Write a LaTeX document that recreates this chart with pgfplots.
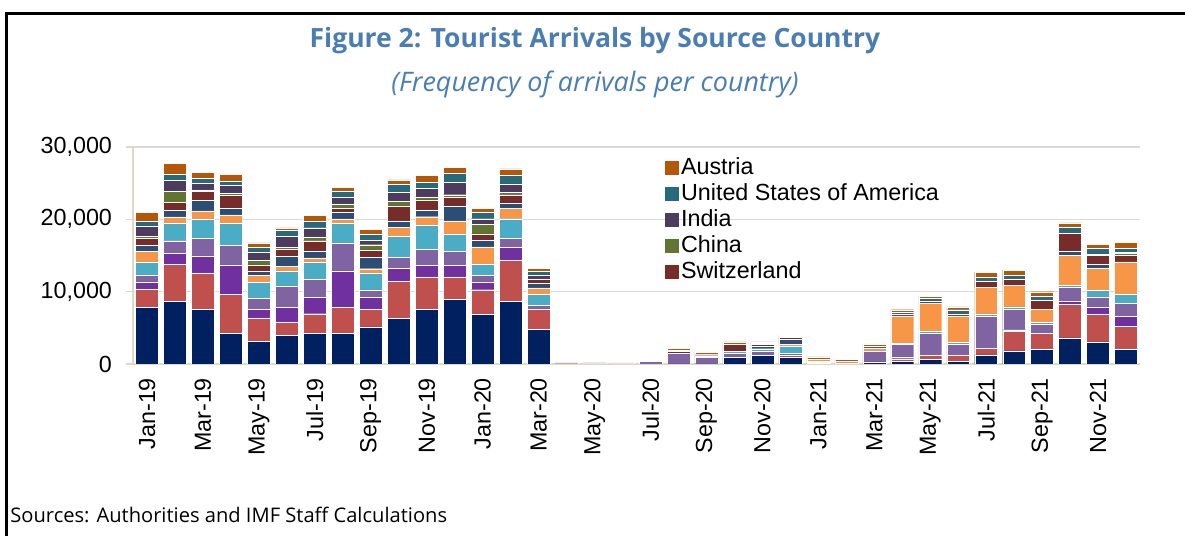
\documentclass[border=0pt]{standalone}
\usepackage{pgfplots}
\usepackage{pgfplotstable}
\usepackage{fontspec}
\pgfplotsset{compat=1.18}
\setmainfont{Liberation Sans}
\newfontfamily\segoe{Open Sans}

\definecolor{titleblue}{HTML}{4A7EB3}
\definecolor{gridgray}{HTML}{D9D9D9}
\definecolor{axisbeige}{HTML}{DDD9C3}
\definecolor{cA}{HTML}{002060}
\definecolor{cB}{HTML}{C0504D}
\definecolor{cC}{HTML}{7030A0}
\definecolor{cD}{HTML}{8064A2}
\definecolor{cE}{HTML}{4BACC6}
\definecolor{cF}{HTML}{F79646}
\definecolor{cG}{HTML}{2C4D75}
\definecolor{cSwi}{HTML}{772C2A}
\definecolor{cChn}{HTML}{5F7530}
\definecolor{cInd}{HTML}{4D3B62}
\definecolor{cUsa}{HTML}{276A7C}
\definecolor{cAut}{HTML}{B65708}

% monthly arrivals by source, Jan-19 .. Dec-21 (x = 0..35)
\pgfplotstableread{
x  sa   sb   sc   sd   se   sf   sg   swi  chn  ind  usa  aut
0  7870 2410 1060 980  1800 1440 880  920  280  1440 640  1210
1  8700 5100 1480 1760 2410 880  920  1110 1530 1480 840  1480
2  7590 5000 2360 2410 2640 1160 1480 1250 190  920  650  880
3  4260 5370 4070 2740 3010 1150 880  1810 320  1070 650  920
4  3100 3290 1160 1480 2310 880  650  830  650  1160 600  650
5  3980 1850 2040 2920 2080 600  1480 880  280  1530 880  280
6  4260 2690 2310 2410 2450 560  880  1480 550  1250 880  840
7  4260 3610 5000 3890 2690 600  880  600  600  880  880  560
8  5140 2380 1730 980  2380 560  1590 1030 700  600  840  660
9  6300 5140 1780 1490 2940 1220 930  2060 600  1260 1120 610
10 7570 4480 1630 2200 3270 1210 940  1400 420  1160 840  940
11 8970 3080 1630 1870 2430 1820 2060 1160 380  1720 1270 840
12 6910 3360 1080 930  1500 2420 940  840  1310 790  890  560
13 8640 5740 1730 1260 2710 1450 650  1220 320  1170 1170 930
14 4760 2760 80   530  1490 890  600  570  100  550  510  380
15 20   0    0    20   50   0    40   0    0    0    0    10
16 30   0    0    60   0    0    40   30   0    0    0    30
17 25   0    0    100  0    40   0    50   0    40   0    120
18 0    0    0    380  0    0    0    80   0    50   30   120
19 30   0    0    1450 0    0    0    250  0    130  0    300
20 40   0    0    900  0    0    0    200  0    130  50   280
21 940  0    0    560  280  0    0    890  0    0    0    380
22 1220 0    0    560  330  0    380  230  0    0    100  230
23 940  280  0    280  940  280  660  280  0    0    150  180
24 100  150  0    150  0    200  0    100  0    0    0    285
25 50   0    0    100  0    200  0    80   0    0    0    230
26 280  0    0    1500 0    380  0    0    0    0    280  280
27 330  400  255  1735 140  3800 0    190  0    0    370  280
28 660  610  0    2950 330  3890 0    230  0    0    380  330
29 375  895  0    1450 280  3660 0    280  0    0    560  380
30 1270 890  0    4450 330  3610 0    890  0    0    610  660
31 1830 2720 190  2810 330  2950 0    900  0    0    600  660
32 2110 2110 0    1310 240  1780 0    1270 0    0    610  560
33 3610 4600 510  1830 280  4180 610  2440 0    0    840  610
34 3050 3890 940  1410 930  2960 660  1170 0    230  710  560
35 2110 3050 1450 1780 1270 4460 0    890  280  190  470  840
}\arrivals

\begin{document}
\begin{tikzpicture}[x=0.5bp,y=0.5bp]
\useasboundingbox (0,0) rectangle (1185,536);
% frame (top and left edges only)
\draw[line width=1.3bp] (6.5,0) -- (6.5,522.2) -- (1185,522.2);

\node[anchor=base, text=titleblue, font=\segoe\bfseries\fontsize{13.3}{16}\selectfont]
  at (595,488.7) {Figure 2: Tourist Arrivals by Source Country};
\node[anchor=base, text=titleblue, font=\segoe\itshape\fontsize{13.5}{16}\selectfont]
  at (595,444.3) {(Frequency of arrivals per country)};
\node[anchor=base west, inner sep=0pt, font=\segoe\fontsize{10.1}{12}\selectfont]
  at (10,13.3) {Sources: Authorities and IMF Staff Calculations};

\begin{axis}[
  at={(66.5bp,86bp)}, anchor=south west,
  scale only axis,
  width=503.5bp, height=108.5bp,
  ybar stacked,
  bar width=0.82,
  xmin=-0.5, xmax=35.5,
  ymin=0, ymax=30000,
  ytick={0,10000,20000,30000},
  scaled y ticks=false,
  /pgf/number format/assume math mode=true,
  /pgf/number format/1000 sep={,},
  xtick={0,2,...,34},
  xticklabels={Jan-19,Mar-19,May-19,Jul-19,Sep-19,Nov-19,Jan-20,Mar-20,May-20,Jul-20,Sep-20,Nov-20,Jan-21,Mar-21,May-21,Jul-21,Sep-21,Nov-21},
  xticklabel style={rotate=90, anchor=east},
  yticklabel style={xshift=-3.5bp},
  tick label style={font=\fontsize{11.7}{14}\selectfont, text=black},
  xtick style={draw=none},
  ytick style={draw=axisbeige, line width=0.8bp},
  tick align=outside,
  major tick length=3.5bp,
  axis x line*=bottom,
  axis y line*=left,
  axis line style={draw=axisbeige, line width=1bp, -},
  ymajorgrids,
  grid style={draw=gridgray, line width=0.8bp},
  every axis plot/.append style={draw=white, line width=0.2bp},
  reverse legend,
  legend cell align=left,
  legend style={at={(0.522,0.982)}, anchor=north west, draw=none, fill=none,
    font=\fontsize{11.7}{14}\selectfont, row sep=0.5bp,
    nodes={inner sep=1bp, text height=8.5bp, text depth=2bp}},
  legend image code/.code={\fill[#1,draw=none] (0bp,-3.5bp) rectangle (7bp,3.5bp);},
]
\addplot[fill=cA, forget plot] table[x=x,y=sa] {\arrivals};
\addplot[fill=cB, forget plot] table[x=x,y=sb] {\arrivals};
\addplot[fill=cC, forget plot] table[x=x,y=sc] {\arrivals};
\addplot[fill=cD, forget plot] table[x=x,y=sd] {\arrivals};
\addplot[fill=cE, forget plot] table[x=x,y=se] {\arrivals};
\addplot[fill=cF, forget plot] table[x=x,y=sf] {\arrivals};
\addplot[fill=cG, forget plot] table[x=x,y=sg] {\arrivals};
\addplot[fill=cSwi] table[x=x,y=swi] {\arrivals};
\addlegendentry{Switzerland}
\addplot[fill=cChn] table[x=x,y=chn] {\arrivals};
\addlegendentry{China}
\addplot[fill=cInd] table[x=x,y=ind] {\arrivals};
\addlegendentry{India}
\addplot[fill=cUsa] table[x=x,y=usa] {\arrivals};
\addlegendentry{United States of America}
\addplot[fill=cAut] table[x=x,y=aut] {\arrivals};
\addlegendentry{Austria}
\end{axis}
\end{tikzpicture}
\end{document}
